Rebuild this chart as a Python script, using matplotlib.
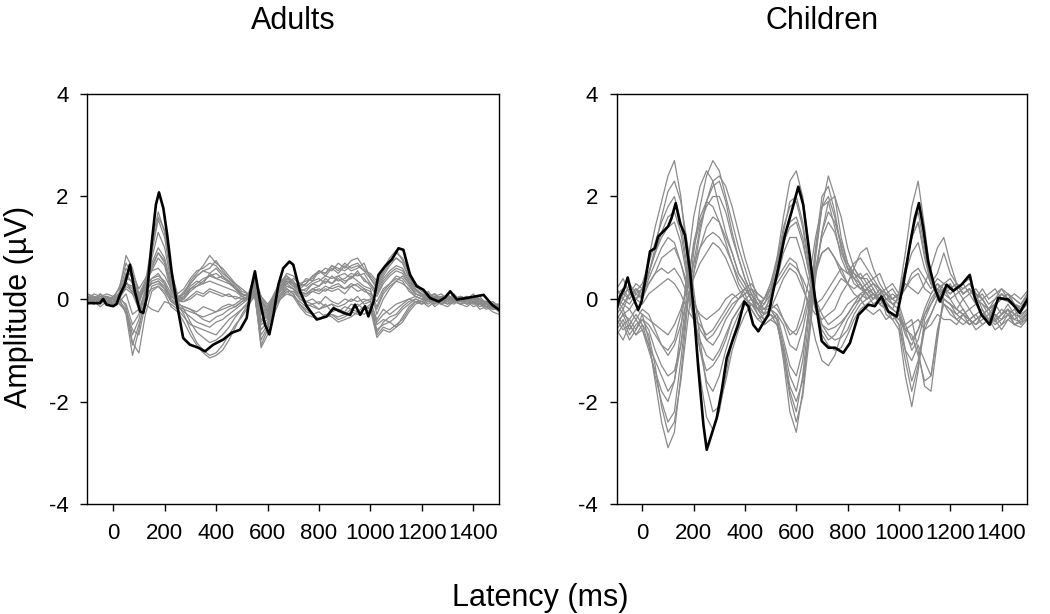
import numpy as np
import matplotlib
matplotlib.use("Agg")
import matplotlib.pyplot as plt

plt.rcParams['font.family'] = ['Liberation Sans', 'DejaVu Sans']
plt.rcParams['axes.unicode_minus'] = False

# shared time grid of the grey channel traces (ms)
grid_t = np.arange(-100, 1501, 25)

# ---------------- Adults ----------------
adult_black_t = [-100, -52, -39, -26, 0, 13, 26, 45, 65, 84, 104, 117, 130, 149, 166, 178, 195, 210,
                 227, 246, 272, 298, 331, 357, 389, 428, 460, 493, 519, 534, 551, 571, 590, 607,
                 623, 642, 661, 685, 700, 726, 752, 791, 830, 856, 895, 921, 940, 960, 979, 992,
                 1012, 1031, 1057, 1083, 1109, 1128, 1154, 1180, 1206, 1232, 1265, 1290, 1310,
                 1336, 1375, 1407, 1440, 1472, 1500]
adult_black_v = [-0.08, -0.08, 0.0, -0.11, -0.14, -0.10, 0.08, 0.28, 0.67, 0.15, -0.24, -0.27, 0.02,
                 1.06, 1.84, 2.08, 1.77, 1.25, 0.54, -0.05, -0.76, -0.89, -0.95, -1.02, -0.89,
                 -0.79, -0.66, -0.60, -0.37, 0.15, 0.54, -0.05, -0.50, -0.69, -0.31, 0.28, 0.60,
                 0.73, 0.67, 0.15, -0.14, -0.40, -0.34, -0.18, -0.27, -0.31, -0.11, -0.31, -0.14,
                 -0.34, -0.05, 0.47, 0.64, 0.77, 0.99, 0.96, 0.47, 0.25, 0.18, 0.02, -0.05, 0.03,
                 0.15, -0.01, 0.02, 0.05, 0.08, -0.11, -0.21]

adult_grey = [
    [0.05, -0.05, 0.10, -0.05, 0.00, 0.10, 0.30, 0.20, -0.10, 0.30, 1.10, 1.70, 1.30,
     0.50, 0.05, 0.10, 0.35, 0.50, 0.65, 0.85, 0.70, 0.60, 0.45, 0.30, 0.15, 0.10,
     0.25, 0.00, -0.20, 0.00, 0.25, 0.40, 0.35, 0.20, 0.30, 0.45, 0.50, 0.60, 0.55,
     0.70, 0.60, 0.75, 0.80, 0.60, 0.45, 0.30, 0.55, 0.75, 0.90, 0.80, 0.50, 0.25,
     0.15, 0.05, 0.10, 0.00, 0.10, -0.05, 0.05, 0.00, 0.10, -0.05, -0.10, -0.15, -0.20],
    [-0.10, 0.00, -0.05, 0.05, -0.10, 0.05, 0.40, 0.35, 0.00, 0.20, 0.90, 1.55, 1.20,
     0.40, 0.00, 0.15, 0.30, 0.45, 0.55, 0.60, 0.75, 0.55, 0.40, 0.25, 0.10, 0.05,
     0.35, -0.10, -0.30, 0.05, 0.30, 0.45, 0.30, 0.25, 0.40, 0.35, 0.55, 0.45, 0.60,
     0.50, 0.65, 0.55, 0.60, 0.70, 0.40, 0.20, 0.45, 0.65, 0.80, 0.70, 0.45, 0.20,
     0.05, 0.15, -0.05, 0.05, 0.00, 0.10, -0.05, 0.05, -0.05, 0.00, -0.15, -0.10, -0.25],
    [0.10, 0.05, 0.00, -0.05, 0.05, 0.20, 0.85, 0.60, 0.10, 0.35, 0.55, 0.60, 0.45,
     0.20, -0.05, 0.00, 0.20, 0.30, 0.40, 0.45, 0.50, 0.40, 0.35, 0.20, 0.05, 0.00,
     0.40, 0.05, -0.15, 0.10, 0.35, 0.45, 0.35, 0.15, 0.20, 0.30, 0.35, 0.45, 0.40,
     0.45, 0.50, 0.40, 0.55, 0.35, 0.30, 0.10, 0.35, 0.50, 0.60, 0.55, 0.35, 0.15,
     0.10, 0.00, 0.05, -0.05, 0.05, 0.00, 0.00, -0.05, 0.05, -0.10, -0.05, -0.20, -0.15],
    [-0.05, -0.10, 0.00, -0.10, -0.05, 0.00, -0.30, -1.10, -0.60, 0.10, 0.35, 0.40, 0.30,
     0.00, -0.10, -0.30, -0.60, -0.85, -1.00, -1.10, -1.05, -0.90, -0.70, -0.50, -0.35, -0.15,
     0.10, -0.90, -0.60, -0.20, 0.05, 0.20, 0.10, -0.10, -0.20, -0.30, -0.25, -0.35, -0.30,
     -0.40, -0.35, -0.25, -0.30, -0.20, -0.10, -0.70, -0.55, -0.60, -0.50, -0.40, -0.20, -0.05,
     -0.10, 0.00, -0.15, -0.05, -0.10, 0.00, -0.10, -0.05, -0.15, -0.10, -0.20, -0.15, -0.25],
    [0.00, 0.05, -0.10, 0.00, -0.10, -0.05, -0.20, -0.70, -0.40, 0.15, 0.30, 0.35, 0.25,
     0.05, -0.05, -0.20, -0.45, -0.65, -0.75, -0.85, -0.80, -0.70, -0.55, -0.35, -0.20, -0.05,
     0.20, -0.60, -0.45, -0.10, 0.10, 0.25, 0.20, 0.00, -0.10, -0.15, -0.20, -0.10, -0.25,
     -0.20, -0.25, -0.10, -0.15, -0.05, 0.00, -0.50, -0.40, -0.45, -0.35, -0.20, -0.10, 0.00,
     -0.05, 0.05, -0.10, 0.00, -0.05, 0.05, -0.05, 0.00, -0.10, -0.05, -0.15, -0.10, -0.20],
    [0.05, -0.05, 0.05, 0.00, -0.05, 0.15, 0.60, 0.40, 0.05, 0.30, 0.40, 0.45, 0.35,
     0.10, -0.10, -0.15, -0.20, -0.30, -0.40, -0.45, -0.35, -0.30, -0.20, -0.15, -0.05, 0.05,
     0.30, -0.40, -0.35, 0.00, 0.20, 0.35, 0.25, 0.10, 0.05, 0.15, 0.10, 0.20, 0.15,
     0.20, 0.10, 0.25, 0.15, 0.20, 0.05, -0.20, 0.10, 0.25, 0.35, 0.30, 0.20, 0.05,
     0.00, 0.10, -0.05, 0.05, -0.05, 0.00, 0.05, -0.10, 0.00, -0.05, -0.10, -0.05, -0.15],
    [-0.10, 0.00, -0.05, 0.05, 0.00, -0.10, -0.25, -0.90, -0.50, -0.10, -0.20, -0.25, -0.05,
     -0.10, -0.20, -0.35, -0.50, -0.55, -0.60, -0.65, -0.70, -0.55, -0.40, -0.30, -0.20, -0.10,
     0.05, -0.70, -0.50, -0.15, 0.00, 0.10, 0.05, -0.05, -0.15, -0.10, -0.20, -0.15, -0.10,
     -0.25, -0.15, -0.20, -0.10, -0.20, -0.15, -0.60, -0.50, -0.45, -0.55, -0.35, -0.15, -0.05,
     -0.05, -0.10, 0.00, -0.10, -0.05, -0.10, 0.00, -0.10, -0.05, -0.15, -0.10, -0.20, -0.15],
    [0.00, 0.10, 0.05, 0.10, 0.05, 0.10, 0.45, 0.50, 0.20, 0.40, 0.70, 1.00, 0.80,
     0.30, 0.05, 0.00, 0.15, 0.25, 0.35, 0.45, 0.40, 0.35, 0.30, 0.20, 0.10, 0.05,
     0.20, -0.20, -0.40, -0.05, 0.20, 0.30, 0.40, 0.30, 0.25, 0.35, 0.40, 0.30, 0.45,
     0.35, 0.40, 0.50, 0.45, 0.50, 0.30, 0.15, 0.40, 0.55, 0.65, 0.60, 0.35, 0.20,
     0.10, 0.05, 0.10, -0.05, 0.05, 0.00, 0.05, 0.00, 0.05, 0.00, -0.10, -0.05, -0.15],
    [-0.05, 0.00, 0.00, -0.10, 0.05, 0.05, 0.20, 0.10, 0.00, 0.25, 0.30, 0.35, 0.20,
     0.05, 0.00, -0.05, 0.00, 0.10, 0.05, 0.15, 0.10, 0.05, 0.10, 0.00, 0.05, 0.10,
     0.15, -0.25, -0.20, 0.05, 0.15, 0.25, 0.20, 0.10, 0.10, 0.20, 0.15, 0.25, 0.20,
     0.25, 0.20, 0.30, 0.25, 0.15, 0.10, -0.05, 0.20, 0.30, 0.40, 0.35, 0.15, 0.05,
     0.00, 0.05, 0.00, 0.05, -0.05, 0.05, 0.00, 0.05, -0.05, 0.00, -0.05, -0.10, -0.10],
    [0.05, 0.00, 0.10, 0.00, -0.05, 0.05, 0.35, 0.10, -0.20, 0.15, 0.80, 1.30, 1.00,
     0.35, 0.00, 0.05, 0.20, 0.25, 0.30, 0.35, 0.30, 0.25, 0.20, 0.15, 0.05, 0.00,
     0.30, -0.15, -0.35, -0.05, 0.25, 0.35, 0.30, 0.15, 0.10, 0.20, 0.25, 0.35, 0.30,
     0.40, 0.30, 0.45, 0.35, 0.25, 0.20, -0.30, 0.00, 0.20, 0.35, 0.45, 0.30, 0.10,
     0.05, -0.05, 0.05, 0.00, 0.05, -0.05, 0.05, 0.00, 0.00, -0.10, -0.10, -0.15, -0.20],
    [0.00, -0.05, 0.05, -0.05, -0.10, 0.00, -0.10, -0.50, -0.30, 0.20, 0.40, 0.50, 0.30,
     0.00, -0.15, -0.20, -0.25, -0.30, -0.35, -0.30, -0.25, -0.20, -0.15, -0.10, 0.00, 0.00,
     0.15, -0.45, -0.30, 0.00, 0.15, 0.30, 0.20, 0.05, -0.05, 0.00, -0.10, 0.05, -0.05,
     -0.10, 0.00, -0.05, 0.05, -0.10, -0.05, -0.40, -0.20, -0.30, -0.20, -0.10, 0.00, 0.05,
     0.00, -0.05, 0.05, -0.05, 0.00, -0.05, 0.05, -0.05, 0.00, -0.10, -0.05, -0.15, -0.10],
    [-0.05, 0.05, 0.00, 0.05, 0.00, 0.05, 0.50, 0.30, -0.05, 0.25, 1.00, 1.60, 1.35,
     0.55, 0.10, 0.20, 0.40, 0.55, 0.60, 0.70, 0.65, 0.50, 0.40, 0.30, 0.20, 0.10,
     0.45, 0.05, -0.10, 0.05, 0.30, 0.50, 0.45, 0.30, 0.35, 0.40, 0.55, 0.50, 0.65,
     0.55, 0.70, 0.60, 0.65, 0.55, 0.50, 0.35, 0.60, 0.80, 0.95, 0.75, 0.55, 0.30,
     0.20, 0.10, 0.05, 0.10, 0.00, 0.05, 0.00, 0.05, 0.00, 0.05, -0.10, -0.10, -0.20],
    [0.05, -0.10, 0.00, -0.05, -0.10, 0.05, -0.15, -0.85, -1.05, -0.30, 0.15, 0.25, 0.10,
     -0.15, -0.25, -0.45, -0.70, -0.90, -1.05, -1.15, -1.10, -1.00, -0.80, -0.55, -0.30, -0.10,
     0.15, -0.95, -0.70, -0.30, 0.00, 0.15, 0.05, -0.15, -0.30, -0.35, -0.40, -0.30, -0.35,
     -0.45, -0.40, -0.35, -0.25, -0.30, -0.20, -0.75, -0.60, -0.65, -0.55, -0.45, -0.25, -0.10,
     -0.05, -0.15, -0.05, -0.10, -0.15, -0.05, -0.10, -0.15, -0.05, -0.20, -0.15, -0.25, -0.30],
    [-0.05, 0.05, -0.05, 0.00, 0.05, 0.00, 0.25, 0.15, -0.05, 0.30, 0.55, 0.80, 0.65,
     0.15, -0.05, 0.05, 0.25, 0.35, 0.30, 0.50, 0.40, 0.45, 0.30, 0.25, 0.10, 0.05,
     0.30, -0.05, -0.25, 0.05, 0.20, 0.35, 0.25, 0.20, 0.15, 0.30, 0.25, 0.40, 0.30,
     0.45, 0.35, 0.40, 0.50, 0.40, 0.25, 0.05, 0.30, 0.45, 0.55, 0.50, 0.30, 0.10,
     0.05, 0.10, 0.00, 0.05, 0.05, -0.05, 0.00, 0.05, -0.05, 0.00, -0.10, -0.10, -0.15],
    [-0.10, -0.05, -0.15, -0.05, -0.10, -0.05, 0.10, -0.30, -0.20, 0.10, 0.20, 0.25, 0.15,
     -0.05, -0.10, -0.15, -0.20, -0.25, -0.15, -0.20, -0.25, -0.15, -0.10, -0.15, -0.05, 0.00,
     0.10, -0.50, -0.40, -0.05, 0.10, 0.20, 0.10, -0.10, -0.25, -0.30, -0.40, -0.35, -0.30,
     -0.35, -0.30, -0.20, -0.25, -0.15, -0.20, -0.45, -0.30, -0.20, -0.10, -0.05, 0.00, -0.05,
     -0.10, -0.05, -0.10, 0.00, -0.10, -0.05, -0.10, 0.00, -0.10, -0.05, -0.15, -0.20, -0.20],
    [0.10, 0.00, 0.05, 0.05, 0.00, 0.25, 0.70, 0.45, 0.05, 0.25, 0.65, 0.90, 0.70,
     0.25, 0.00, 0.10, 0.30, 0.45, 0.55, 0.50, 0.60, 0.45, 0.35, 0.20, 0.10, 0.05,
     0.30, -0.05, -0.20, 0.05, 0.30, 0.40, 0.30, 0.25, 0.30, 0.45, 0.55, 0.50, 0.65,
     0.60, 0.55, 0.65, 0.70, 0.55, 0.40, 0.25, 0.50, 0.70, 0.80, 0.70, 0.40, 0.20,
     0.10, 0.05, 0.10, 0.00, 0.05, 0.00, 0.05, -0.05, 0.05, 0.00, -0.10, -0.15, -0.10],
    [0.00, 0.00, -0.05, 0.00, -0.05, -0.10, -0.20, -0.60, -0.70, -0.10, 0.25, 0.30, 0.20,
     -0.05, -0.15, -0.25, -0.35, -0.45, -0.50, -0.55, -0.45, -0.40, -0.30, -0.20, -0.10, 0.00,
     0.10, -0.80, -0.55, -0.15, 0.05, 0.15, 0.15, 0.00, -0.05, -0.10, -0.05, -0.15, -0.10,
     -0.15, -0.10, 0.00, -0.05, 0.00, -0.05, -0.65, -0.45, -0.35, -0.30, -0.15, -0.05, 0.00,
     -0.05, 0.00, -0.05, -0.10, 0.00, -0.05, -0.05, -0.10, -0.05, -0.10, -0.15, -0.10, -0.20],
    [0.05, -0.05, 0.05, 0.05, 0.00, 0.05, 0.30, 0.25, 0.00, 0.35, 0.60, 0.90, 0.75,
     0.20, -0.05, -0.05, 0.05, 0.15, 0.10, 0.20, 0.15, 0.10, 0.05, 0.05, 0.00, 0.05,
     0.25, -0.30, -0.25, 0.05, 0.25, 0.35, 0.30, 0.15, 0.10, 0.15, 0.20, 0.15, 0.25,
     0.30, 0.20, 0.25, 0.30, 0.20, 0.15, -0.15, 0.15, 0.30, 0.45, 0.40, 0.25, 0.10,
     0.05, 0.00, 0.05, 0.00, 0.00, 0.05, -0.05, 0.00, 0.00, -0.05, -0.05, -0.10, -0.15],
]

# ---------------- Children ----------------
child_black_t = [-100, -87, -70, -57, -44, -29, -16, -3, 13, 30, 49, 62, 82, 101, 114, 130, 147, 166,
                 186, 203, 218, 238, 251, 270, 290, 309, 329, 355, 374, 397, 413, 432, 452, 471,
                 491, 510, 530, 556, 582, 608, 627, 647, 673, 699, 725, 751, 783, 809, 842, 881,
                 906, 932, 958, 991, 1017, 1043, 1062, 1078, 1095, 1114, 1140, 1160, 1186, 1212,
                 1244, 1276, 1296, 1322, 1354, 1387, 1426, 1445, 1471, 1500]
child_black_v = [-0.18, 0.05, 0.21, 0.42, 0.15, -0.05, -0.21, -0.05, 0.41, 0.93, 0.99, 1.22, 1.32,
                 1.42, 1.58, 1.87, 1.48, 1.25, 0.54, -0.37, -1.34, -2.45, -2.94, -2.64, -2.32,
                 -1.80, -1.15, -0.76, -0.50, -0.05, -0.14, -0.50, -0.63, -0.47, -0.31, 0.15, 0.60,
                 1.25, 1.71, 2.19, 1.84, 1.06, 0.02, -0.82, -0.95, -0.95, -1.05, -0.86, -0.31,
                 -0.11, -0.14, 0.05, -0.24, -0.34, 0.28, 1.06, 1.58, 1.87, 1.38, 0.73, 0.21, -0.05,
                 0.28, 0.16, 0.28, 0.47, 0.02, -0.31, -0.50, 0.02, -0.01, -0.11, -0.27, -0.01]

child_grey = [
    [-0.20, 0.10, 0.20, 0.00, 0.20, 0.80, 1.40, 1.90, 2.40, 2.70, 2.00, 0.80, -0.40,
     -1.50, -2.30, -2.55, -2.20, -1.50, -0.80, -0.40, -0.10, -0.20, -0.40, -0.30, 0.10, 0.80,
     1.60, 2.30, 2.50, 2.00, 1.00, 0.00, -0.70, -0.90, -1.00, -0.95, -0.70, -0.40, -0.20,
     -0.10, 0.00, 0.10, -0.05, -0.20, 0.10, 0.90, 1.80, 2.30, 1.40, 0.40, 0.00, 0.20,
     0.10, 0.25, 0.30, 0.40, 0.10, -0.20, -0.40, -0.10, 0.00, -0.05, -0.15, -0.25, -0.10],
    [-0.30, -0.50, -0.40, -0.60, -0.30, -0.80, -1.60, -2.40, -2.90, -2.60, -1.50, -0.20, 0.90,
     1.80, 2.40, 2.70, 2.50, 2.00, 1.50, 1.00, 0.60, 0.20, -0.10, -0.30, -0.20, -0.40,
     -1.20, -2.20, -2.60, -1.80, -0.60, 0.80, 1.80, 2.40, 2.00, 1.20, 0.70, 0.50, 0.30,
     0.10, 0.00, 0.20, -0.30, -0.40, -0.60, -1.50, -2.10, -1.40, -0.40, -0.10, 0.20, 0.10,
     0.00, -0.20, -0.30, -0.40, -0.30, -0.20, -0.50, -0.35, -0.20, -0.30, -0.40, -0.45, -0.30],
    [0.10, 0.20, 0.00, 0.15, 0.30, 0.70, 1.10, 1.50, 1.80, 2.00, 1.50, 0.60, -0.20,
     -1.00, -1.60, -1.80, -1.50, -1.00, -0.60, -0.30, -0.10, 0.00, -0.20, -0.10, 0.20, 0.70,
     1.40, 1.80, 1.90, 1.40, 0.60, -0.10, -0.50, -0.60, -0.55, -0.45, -0.30, -0.10, 0.00,
     0.20, 0.10, 0.00, 0.10, 0.00, -0.10, -0.50, -0.80, -0.60, -0.20, 0.10, 0.30, 0.10,
     0.20, 0.30, 0.10, 0.20, 0.00, -0.10, -0.20, 0.00, 0.10, 0.00, -0.10, -0.15, 0.00],
    [-0.40, -0.20, -0.50, -0.30, -0.50, -0.90, -1.50, -2.00, -2.40, -2.20, -1.20, -0.10, 0.70,
     1.40, 1.90, 2.20, 2.30, 1.90, 1.30, 0.80, 0.40, 0.10, -0.20, -0.40, -0.30, -0.50,
     -1.00, -1.80, -2.20, -1.50, -0.30, 0.90, 1.80, 1.90, 1.40, 0.80, 0.50, 0.40, 0.20,
     0.30, 0.10, -0.10, -0.20, -0.30, -0.40, -0.50, -0.40, -1.00, -1.70, -1.80, -0.80, 0.10,
     0.30, 0.00, -0.20, -0.40, -0.50, -0.40, -0.30, -0.45, -0.30, -0.20, -0.40, -0.30, -0.20],
    [0.00, -0.20, 0.10, 0.20, 0.00, 0.40, 0.70, 1.00, 1.20, 1.10, 0.70, 0.30, 0.00,
     -0.40, -0.80, -0.90, -0.70, -0.40, -0.20, 0.00, 0.10, 0.20, 0.00, -0.10, 0.10, 0.40,
     0.90, 1.20, 1.20, 0.80, 0.30, -0.20, -0.40, -0.30, -0.20, 0.10, 0.30, 0.60, 0.90,
     1.00, 0.60, 0.30, 0.10, 0.20, 0.00, 0.30, 0.20, 0.10, 0.30, 0.60, 1.00, 1.20,
     0.70, 0.30, 0.10, 0.20, 0.00, 0.10, -0.10, 0.00, 0.20, 0.10, 0.00, -0.10, 0.05],
    [-0.60, -0.40, -0.70, -0.50, -0.40, -0.60, -1.00, -1.30, -1.50, -1.40, -0.90, -0.10, 0.50,
     1.00, 1.40, 1.60, 1.50, 1.20, 0.90, 0.50, 0.30, 0.00, -0.20, -0.30, -0.20, -0.30,
     -0.80, -1.30, -1.50, -1.00, -0.20, 0.60, 1.20, 1.50, 1.30, 0.90, 0.60, 0.50, 0.40,
     0.40, 0.20, 0.00, -0.10, -0.20, -0.30, -1.00, -1.60, -1.20, -0.50, -0.30, 0.00, -0.10,
     -0.20, -0.30, -0.40, -0.50, -0.40, -0.30, -0.40, -0.50, -0.40, -0.20, -0.50, -0.40, -0.30],
    [0.20, 0.00, 0.30, 0.10, 0.20, 0.50, 0.90, 1.20, 1.40, 1.50, 1.10, 0.40, -0.20,
     -0.60, -0.80, -0.70, -0.50, -0.30, -0.10, 0.00, 0.10, 0.20, 0.10, 0.00, 0.20, 0.40,
     0.60, 0.80, 0.70, 0.30, -0.20, -0.80, -1.20, -1.30, -1.10, -0.70, -0.40, -0.20, 0.00,
     0.20, 0.30, 0.10, 0.20, 0.00, 0.10, 0.60, 1.20, 1.50, 0.80, 0.30, 0.20, 0.30,
     0.40, 0.20, 0.30, 0.10, 0.20, 0.00, 0.10, 0.20, 0.00, 0.10, 0.00, -0.10, 0.10],
    [-0.10, -0.30, -0.20, -0.40, -0.20, -0.30, -0.60, -0.90, -1.00, -0.80, -0.30, 0.30, 1.00,
     1.50, 1.80, 2.00, 2.00, 1.70, 1.20, 0.80, 0.40, 0.10, -0.10, -0.20, -0.10, -0.20,
     -0.40, -0.70, -0.60, -0.20, 0.40, 1.20, 1.80, 2.00, 1.60, 1.00, 0.60, 0.40, 0.50,
     0.30, 0.40, 0.20, 0.00, -0.10, -0.20, -0.60, -1.00, -0.80, -0.30, 0.00, 0.20, 0.00,
     -0.10, -0.20, -0.30, -0.20, -0.40, -0.30, -0.20, -0.40, -0.30, -0.10, -0.30, -0.35, -0.20],
    [-0.30, -0.10, -0.20, 0.00, -0.10, 0.10, 0.20, 0.30, 0.40, 0.30, 0.10, -0.20, -0.40,
     -0.50, -0.70, -0.60, -0.40, -0.20, 0.00, 0.10, 0.20, 0.00, -0.20, -0.40, -0.20, 0.10,
     0.40, 0.60, 0.50, 0.20, -0.10, -0.30, -0.20, 0.00, 0.20, 0.40, 0.30, 0.60, 0.40,
     0.50, 0.30, 0.20, 0.00, 0.10, 0.00, 0.20, 0.40, 0.50, 0.20, 0.10, 0.30, 0.20,
     0.10, 0.20, 0.00, 0.10, -0.10, 0.00, -0.20, -0.10, 0.00, 0.10, -0.10, -0.20, -0.05],
    [-0.50, -0.30, -0.60, -0.40, -0.60, -1.00, -1.40, -1.80, -2.00, -1.60, -0.60, 0.60, 1.60,
     2.20, 2.50, 2.30, 1.80, 1.30, 0.90, 0.50, 0.30, 0.00, -0.30, -0.40, -0.30, -0.40,
     -0.90, -1.50, -1.80, -1.20, -0.10, 1.00, 2.00, 2.20, 1.70, 1.00, 0.60, 0.30, 0.20,
     0.10, -0.10, 0.00, -0.20, -0.30, -0.50, -1.00, -1.20, -0.90, -1.20, -1.50, -0.70, 0.00,
     -0.10, -0.30, -0.20, -0.40, -0.30, -0.50, -0.40, -0.30, -0.40, -0.30, -0.20, -0.40, -0.25],
    [-0.20, 0.00, -0.10, 0.10, 0.00, 0.30, 0.50, 0.80, 0.90, 1.00, 0.70, 0.20, -0.40,
     -0.80, -1.10, -1.20, -1.00, -0.70, -0.40, -0.20, 0.00, -0.10, -0.20, 0.00, 0.30, 0.70,
     1.10, 1.40, 1.50, 1.10, 0.50, 0.00, -0.30, -0.50, -0.40, -0.30, -0.10, 0.00, 0.10,
     0.00, 0.10, -0.10, 0.00, 0.00, 0.10, 0.60, 1.20, 1.50, 0.90, 0.30, 0.10, 0.20,
     0.00, 0.10, 0.20, 0.30, 0.10, 0.00, -0.20, -0.10, 0.10, 0.00, -0.10, -0.20, 0.00],
    [-0.70, -0.50, -0.80, -0.60, -0.40, -0.50, -0.70, -0.90, -1.10, -0.90, -0.50, 0.00, 0.40,
     0.70, 0.90, 1.10, 1.00, 0.80, 0.50, 0.20, 0.00, -0.10, -0.30, -0.50, -0.40, -0.30,
     -0.50, -0.90, -1.00, -0.60, 0.00, 0.50, 0.90, 1.00, 0.80, 0.50, 0.30, 0.10, 0.00,
     -0.20, -0.30, -0.20, -0.40, -0.30, -0.40, -0.60, -0.50, -0.40, -0.60, -0.50, -0.30, -0.40,
     -0.40, -0.50, -0.30, -0.40, -0.50, -0.30, -0.50, -0.40, -0.60, -0.40, -0.50, -0.55, -0.40],
    [0.00, -0.10, 0.10, 0.00, 0.10, 0.50, 1.00, 1.60, 2.10, 2.30, 1.90, 1.10, 0.20,
     -0.80, -1.70, -2.20, -2.10, -1.60, -1.00, -0.60, -0.30, -0.10, -0.20, -0.20, 0.00, 0.60,
     1.30, 1.90, 2.00, 1.50, 0.70, 0.00, -0.50, -0.70, -0.80, -0.75, -0.60, -0.30, -0.10,
     0.00, 0.10, 0.00, 0.10, -0.10, 0.00, 0.50, 1.30, 1.70, 1.00, 0.30, 0.10, 0.30,
     0.20, 0.30, 0.10, 0.20, 0.00, -0.10, -0.30, -0.10, 0.10, 0.00, -0.10, -0.20, -0.05],
    [-0.40, -0.60, -0.50, -0.70, -0.50, -0.70, -1.30, -2.10, -2.60, -2.40, -1.60, -0.50, 0.50,
     1.30, 1.90, 2.30, 2.40, 2.20, 1.80, 1.30, 0.80, 0.40, 0.00, -0.20, -0.20, -0.40,
     -1.10, -1.90, -2.40, -1.90, -0.80, 0.40, 1.30, 1.90, 2.00, 1.60, 1.00, 0.60, 0.40,
     0.20, 0.00, 0.10, -0.20, -0.30, -0.50, -1.20, -1.80, -1.30, -0.60, -0.30, 0.00, -0.10,
     -0.20, -0.40, -0.30, -0.50, -0.40, -0.30, -0.40, -0.30, -0.50, -0.40, -0.30, -0.50, -0.35],
    [0.20, 0.40, 0.10, 0.30, 0.20, 0.30, 0.50, 0.60, 0.50, 0.60, 0.40, 0.10, -0.10,
     -0.30, -0.40, -0.30, -0.20, 0.00, 0.10, 0.00, 0.20, 0.30, 0.10, 0.00, 0.20, 0.30,
     0.50, 0.70, 0.60, 0.40, 0.10, -0.10, 0.00, 0.20, 0.40, 0.60, 0.50, 0.70, 0.80,
     0.60, 0.40, 0.50, 0.20, 0.30, 0.10, 0.20, 0.50, 0.60, 0.40, 0.20, 0.40, 0.30,
     0.20, 0.30, 0.10, 0.20, 0.00, 0.20, 0.00, 0.10, 0.20, 0.00, 0.10, 0.00, 0.15],
    [-0.50, -0.30, -0.40, -0.20, -0.30, -0.40, -0.50, -0.60, -0.70, -0.50, -0.20, 0.20, 0.70,
     1.00, 1.20, 1.30, 1.20, 1.00, 0.70, 0.40, 0.20, 0.00, -0.10, -0.30, -0.20, -0.10,
     -0.40, -0.60, -0.70, -0.40, 0.10, 0.60, 0.90, 1.00, 0.80, 0.60, 0.30, 0.20, 0.30,
     0.00, 0.10, 0.00, -0.10, -0.20, -0.30, -0.70, -0.90, -0.60, -0.30, -0.10, 0.10, 0.00,
     -0.10, -0.20, 0.00, -0.20, -0.10, -0.30, -0.20, -0.10, -0.30, -0.20, -0.30, -0.20, -0.10],
    [-0.10, 0.10, 0.00, 0.20, 0.10, 0.50, 0.90, 1.30, 1.60, 1.70, 1.30, 0.50, -0.30,
     -1.00, -1.40, -1.30, -1.10, -0.80, -0.40, -0.20, 0.00, 0.10, -0.10, 0.00, 0.30, 0.80,
     1.20, 1.50, 1.60, 1.20, 0.50, -0.20, -0.60, -0.80, -0.70, -0.50, -0.30, -0.10, 0.10,
     0.20, 0.30, 0.20, 0.10, 0.00, 0.10, 0.50, 0.90, 1.10, 0.60, 0.30, 0.50, 0.90,
     0.50, 0.30, 0.20, 0.30, 0.10, 0.00, -0.20, -0.10, 0.00, 0.10, -0.10, -0.20, 0.00],
    [-0.60, -0.80, -0.50, -0.70, -0.60, -0.90, -1.20, -1.50, -1.80, -1.60, -0.90, 0.20, 1.10,
     1.60, 1.90, 1.80, 1.50, 1.10, 0.70, 0.30, 0.10, -0.20, -0.40, -0.50, -0.40, -0.50,
     -1.00, -1.70, -2.00, -1.60, -0.60, 0.50, 1.30, 1.70, 1.50, 1.10, 0.70, 0.40, 0.30,
     0.10, 0.20, -0.10, -0.20, -0.40, -0.30, -0.60, -0.70, -1.10, -1.60, -1.50, -0.60, -0.10,
     -0.30, -0.40, -0.50, -0.40, -0.60, -0.50, -0.40, -0.60, -0.50, -0.30, -0.50, -0.45, -0.40],
]

titles = ['Adults', 'Children']
xticks = [0, 200, 400, 600, 800, 1000, 1200, 1400]
yticks = [-4, -2, 0, 2, 4]

grey = '#8a8a8a'

fig = plt.figure(figsize=(10.5, 6.14), dpi=100)
ax_a = fig.add_axes([0.0833, 0.179, 0.392, 0.668])
ax_c = fig.add_axes([0.5873, 0.179, 0.391, 0.668])

panels = [(ax_a, adult_grey, adult_black_t, adult_black_v),
          (ax_c, child_grey, child_black_t, child_black_v)]

for (ax, grey_traces, bt, bv), title in zip(panels, titles):
    for tr in grey_traces:
        ax.plot(grid_t, tr, color=grey, lw=0.9)
    ax.plot(bt, bv, color='black', lw=1.9)
    ax.set_xlim(-100, 1500)
    ax.set_ylim(-4, 4)
    ax.set_xticks(xticks)
    ax.set_yticks(yticks)
    ax.tick_params(direction='out', length=5, width=1, pad=8.5, labelsize=16)
    for s in ax.spines.values():
        s.set_linewidth(1.0)
    ax.set_title(title, fontsize=22, pad=47)

fig.text(0.018, 0.5, 'Amplitude (\u00b5V)', rotation=90, ha='center', va='center', fontsize=22)
fig.text(0.515, 0.013, 'Latency (ms)', ha='center', va='baseline', fontsize=22)

fig.savefig('out.png', dpi=100)
